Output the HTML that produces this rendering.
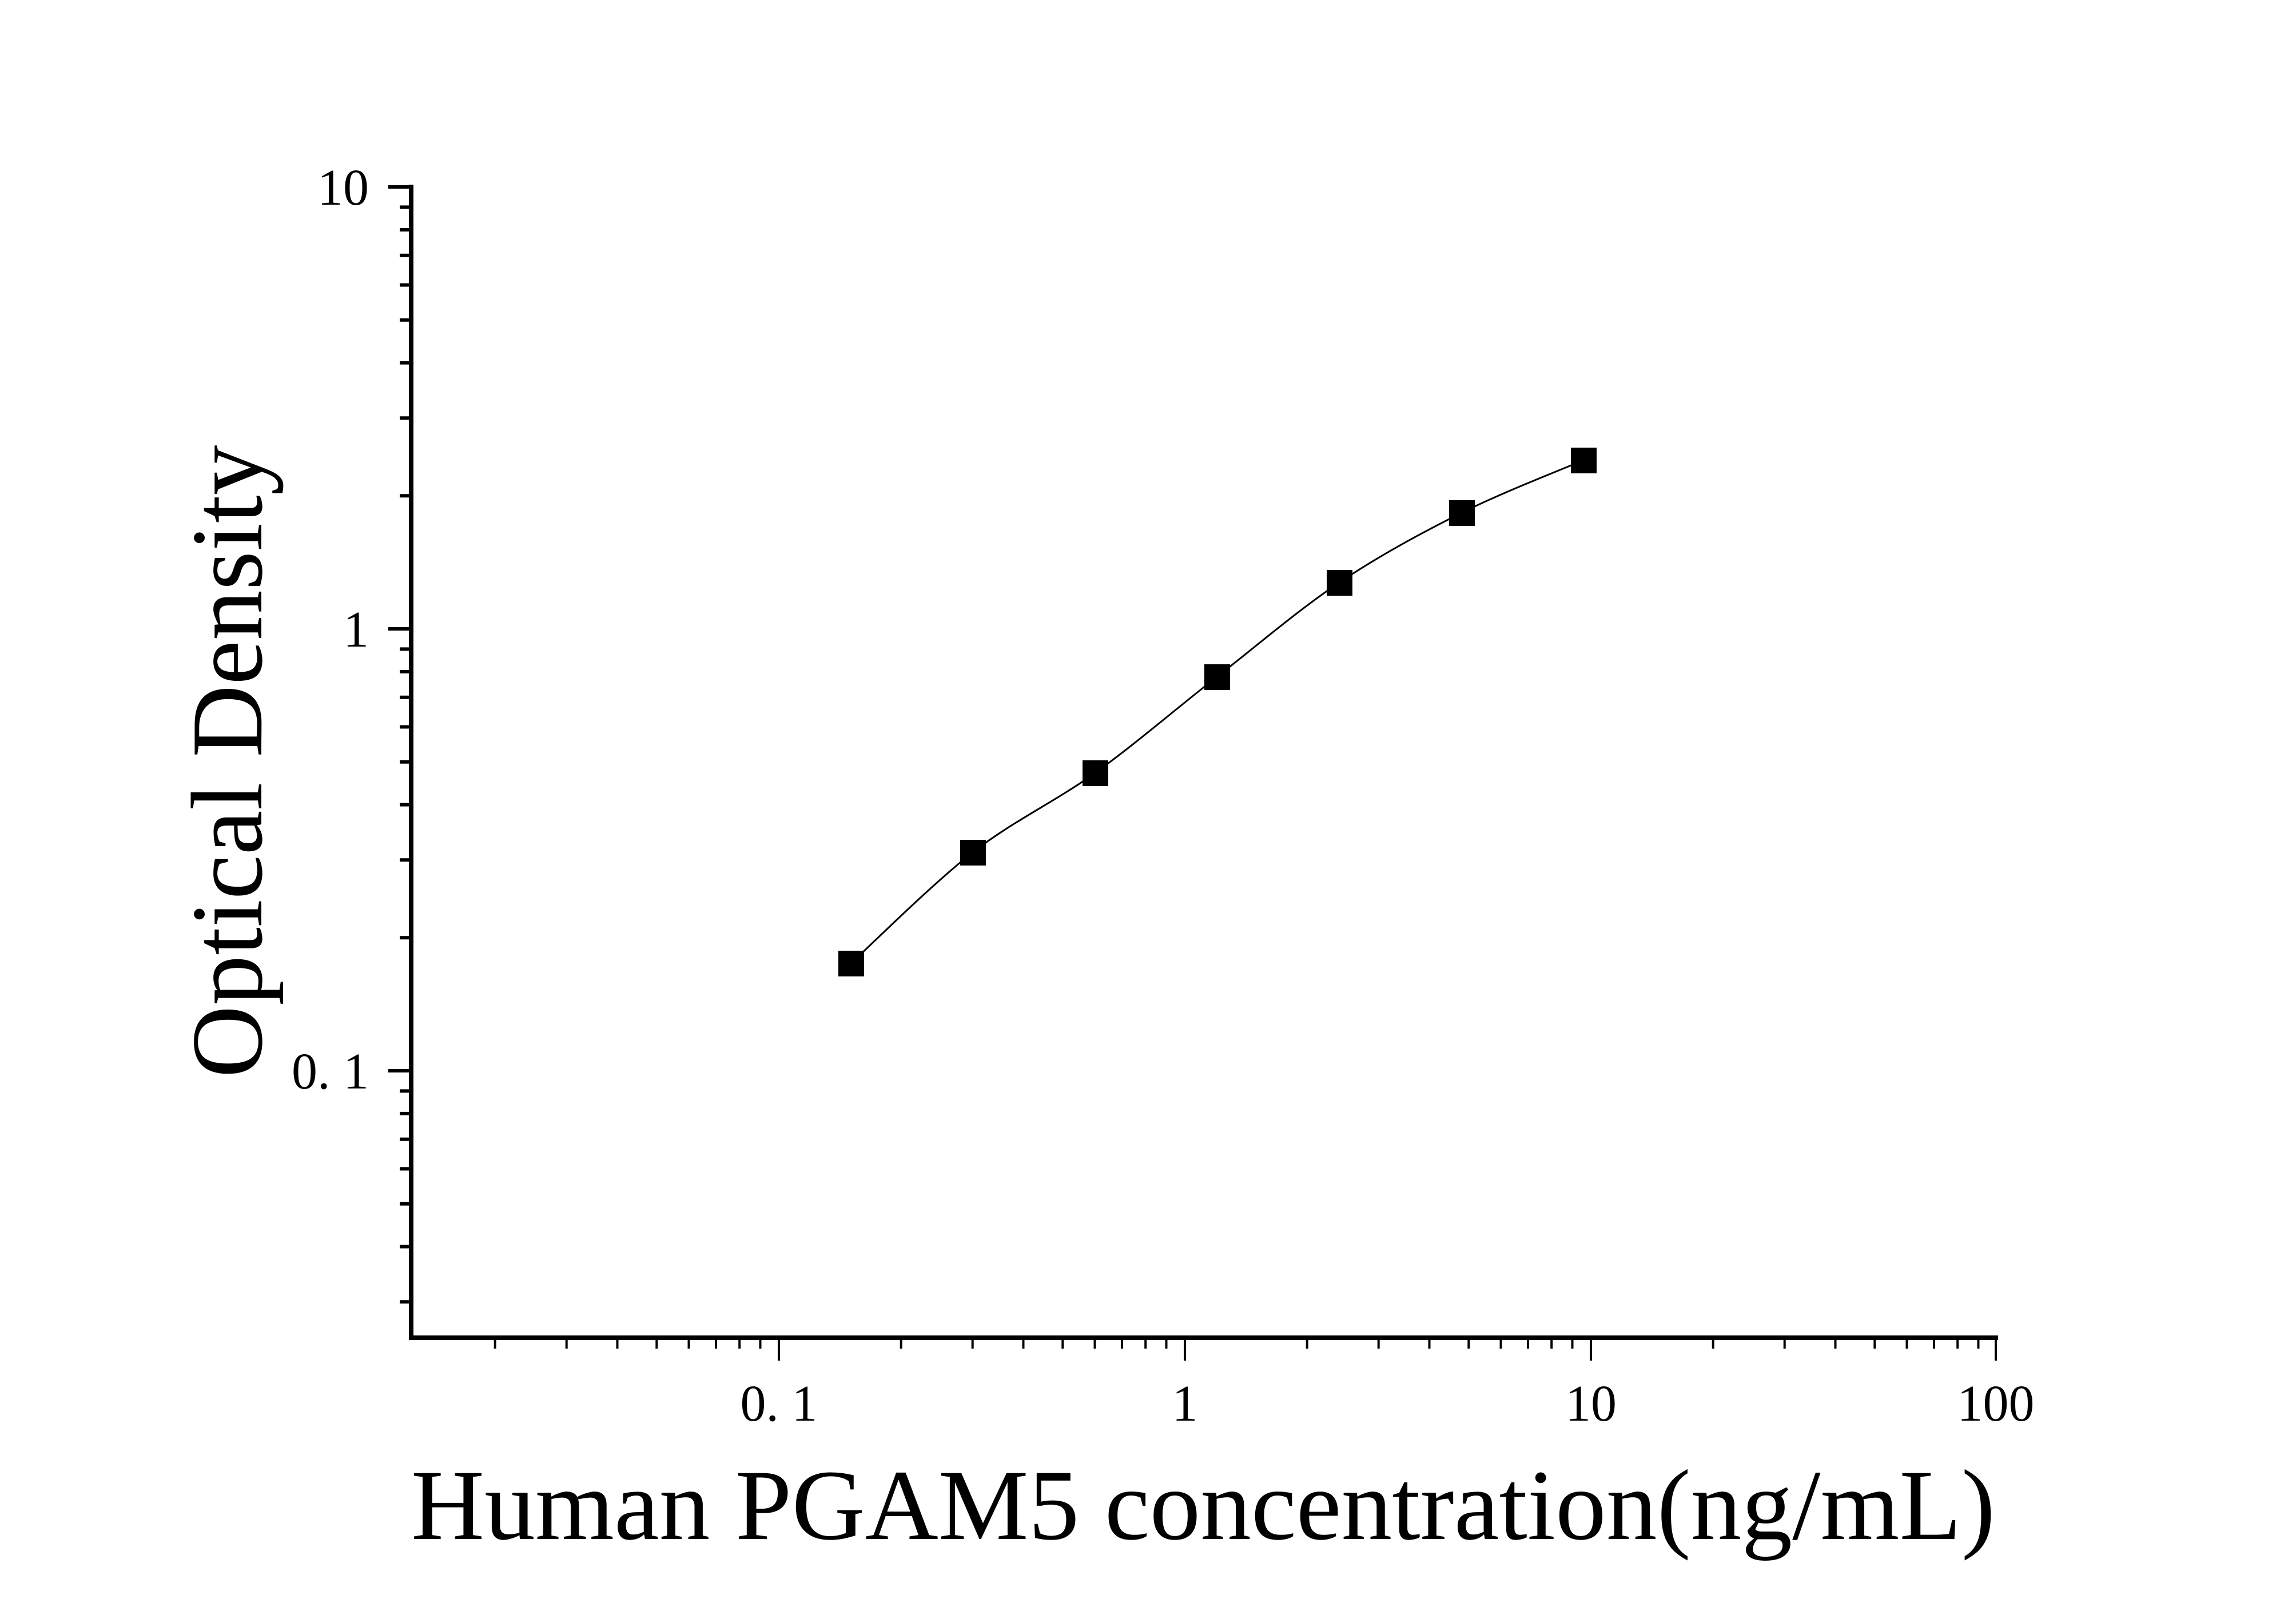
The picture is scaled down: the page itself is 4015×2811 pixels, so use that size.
<!DOCTYPE html>
<html><head><meta charset="utf-8"><style>html,body{margin:0;padding:0;background:#fff}</style></head>
<body>
<svg width="4015" height="2806" viewBox="0 0 4015 2806" xmlns="http://www.w3.org/2000/svg" font-family="'Liberation Serif', serif">
<rect width="4015" height="2806" fill="#fff"/>
<g stroke="#000" fill="none">
<line x1="719" y1="323" x2="719" y2="2344" stroke-width="8"/>
<line x1="715" y1="2340" x2="3494" y2="2340" stroke-width="8"/>
<g stroke-width="6">
<line x1="679" y1="327" x2="719" y2="327"/>
<line x1="679" y1="1100" x2="719" y2="1100"/>
<line x1="679" y1="1873" x2="719" y2="1873"/>
<line x1="699" y1="867.3" x2="719" y2="867.3"/>
<line x1="699" y1="731.2" x2="719" y2="731.2"/>
<line x1="699" y1="634.6" x2="719" y2="634.6"/>
<line x1="699" y1="559.7" x2="719" y2="559.7"/>
<line x1="699" y1="498.5" x2="719" y2="498.5"/>
<line x1="699" y1="446.7" x2="719" y2="446.7"/>
<line x1="699" y1="401.9" x2="719" y2="401.9"/>
<line x1="699" y1="362.4" x2="719" y2="362.4"/>
<line x1="699" y1="1640.3" x2="719" y2="1640.3"/>
<line x1="699" y1="1504.2" x2="719" y2="1504.2"/>
<line x1="699" y1="1407.6" x2="719" y2="1407.6"/>
<line x1="699" y1="1332.7" x2="719" y2="1332.7"/>
<line x1="699" y1="1271.5" x2="719" y2="1271.5"/>
<line x1="699" y1="1219.7" x2="719" y2="1219.7"/>
<line x1="699" y1="1174.9" x2="719" y2="1174.9"/>
<line x1="699" y1="1135.4" x2="719" y2="1135.4"/>
<line x1="699" y1="1908.4" x2="719" y2="1908.4"/>
<line x1="699" y1="1947.9" x2="719" y2="1947.9"/>
<line x1="699" y1="1992.7" x2="719" y2="1992.7"/>
<line x1="699" y1="2044.5" x2="719" y2="2044.5"/>
<line x1="699" y1="2105.7" x2="719" y2="2105.7"/>
<line x1="699" y1="2180.6" x2="719" y2="2180.6"/>
<line x1="699" y1="2277.2" x2="719" y2="2277.2"/>
</g>
<g stroke-width="4">
<line x1="1362" y1="2340" x2="1362" y2="2380"/>
<line x1="2072" y1="2340" x2="2072" y2="2380"/>
<line x1="2782" y1="2340" x2="2782" y2="2380"/>
<line x1="3490" y1="2340" x2="3490" y2="2380"/>
<line x1="865.7" y1="2340" x2="865.7" y2="2359"/>
<line x1="990.7" y1="2340" x2="990.7" y2="2359"/>
<line x1="1079.5" y1="2340" x2="1079.5" y2="2359"/>
<line x1="1148.3" y1="2340" x2="1148.3" y2="2359"/>
<line x1="1204.5" y1="2340" x2="1204.5" y2="2359"/>
<line x1="1252" y1="2340" x2="1252" y2="2359"/>
<line x1="1293.2" y1="2340" x2="1293.2" y2="2359"/>
<line x1="1329.5" y1="2340" x2="1329.5" y2="2359"/>
<line x1="1575.7" y1="2340" x2="1575.7" y2="2359"/>
<line x1="1700.7" y1="2340" x2="1700.7" y2="2359"/>
<line x1="1789.5" y1="2340" x2="1789.5" y2="2359"/>
<line x1="1858.3" y1="2340" x2="1858.3" y2="2359"/>
<line x1="1914.5" y1="2340" x2="1914.5" y2="2359"/>
<line x1="1962" y1="2340" x2="1962" y2="2359"/>
<line x1="2003.2" y1="2340" x2="2003.2" y2="2359"/>
<line x1="2039.5" y1="2340" x2="2039.5" y2="2359"/>
<line x1="2285.7" y1="2340" x2="2285.7" y2="2359"/>
<line x1="2410.7" y1="2340" x2="2410.7" y2="2359"/>
<line x1="2499.5" y1="2340" x2="2499.5" y2="2359"/>
<line x1="2568.3" y1="2340" x2="2568.3" y2="2359"/>
<line x1="2624.5" y1="2340" x2="2624.5" y2="2359"/>
<line x1="2672" y1="2340" x2="2672" y2="2359"/>
<line x1="2713.2" y1="2340" x2="2713.2" y2="2359"/>
<line x1="2749.5" y1="2340" x2="2749.5" y2="2359"/>
<line x1="2995.7" y1="2340" x2="2995.7" y2="2359"/>
<line x1="3120.7" y1="2340" x2="3120.7" y2="2359"/>
<line x1="3209.5" y1="2340" x2="3209.5" y2="2359"/>
<line x1="3278.3" y1="2340" x2="3278.3" y2="2359"/>
<line x1="3334.5" y1="2340" x2="3334.5" y2="2359"/>
<line x1="3382" y1="2340" x2="3382" y2="2359"/>
<line x1="3423.2" y1="2340" x2="3423.2" y2="2359"/>
<line x1="3459.5" y1="2340" x2="3459.5" y2="2359"/>
</g>
<path stroke-width="3" d="M1488,1685 C1523.5,1652.7 1629.8,1546.5 1701,1491 C1772.2,1435.5 1843.8,1403.2 1915,1352 C1986.2,1300.8 2056.8,1239.5 2128,1184 C2199.2,1128.5 2270.7,1066.8 2342,1019 C2413.3,971.2 2484.8,932.7 2556,897 C2627.2,861.3 2733.5,820.3 2769,805"/>
</g>
<g fill="#000">
<rect x="1466" y="1663" width="45" height="45"/>
<rect x="1679" y="1469" width="45" height="45"/>
<rect x="1893" y="1330" width="45" height="45"/>
<rect x="2106" y="1162" width="45" height="45"/>
<rect x="2320" y="997" width="45" height="45"/>
<rect x="2534" y="875" width="45" height="45"/>
<rect x="2747" y="783" width="45" height="45"/>
</g>
<g font-size="90" fill="#000">
<text x="645" y="358" text-anchor="end">10</text>
<text x="645" y="1131" text-anchor="end">1</text>
<text x="645" y="1904" text-anchor="end">0. 1</text>
<text x="1362" y="2485" text-anchor="middle">0. 1</text>
<text x="2072" y="2485" text-anchor="middle">1</text>
<text x="2782" y="2485" text-anchor="middle">10</text>
<text x="3490" y="2485" text-anchor="middle">100</text>
</g>
<text x="719" y="2692" font-size="176" textLength="2770" lengthAdjust="spacingAndGlyphs" fill="#000">Human PGAM5 concentration(ng/mL)</text>
<text transform="translate(457,1332) rotate(-90)" text-anchor="middle" font-size="178" textLength="1107" lengthAdjust="spacingAndGlyphs" fill="#000">Optical Density</text>
</svg>
</body></html>
